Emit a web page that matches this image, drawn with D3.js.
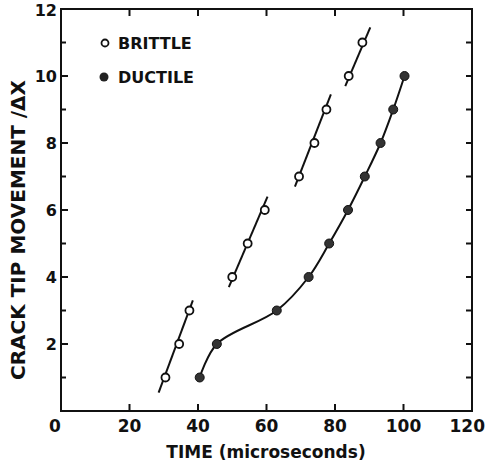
<!DOCTYPE html>
<html>
<head>
<meta charset="utf-8">
<title>Crack tip movement</title>
<script src="https://cdn.jsdelivr.net/npm/d3@7"></script>
<style>
  body { margin: 0; background: #fff; }
  text { font-family: "DejaVu Sans", sans-serif; font-weight: bold; fill: #111; }
</style>
</head>
<body>
<svg id="chart" width="486" height="464"></svg>
<script>
// data
var brittleTime = [30.5, 34.5, 37.5, 50, 54.5, 59.5, 69.5, 74, 77.5, 84, 88];
var brittleMove = [1, 2, 3, 4, 5, 6, 7, 8, 9, 10, 11];
// fitted straight segments through each brittle group: [t0, y0, t1, y1]
var brittleFits = [
  [28.5, 0.55, 38.5, 3.3],
  [49, 3.7, 60.3, 6.4],
  [68.3, 6.7, 78.8, 9.45],
  [83, 9.7, 90.3, 11.45]
];
var ductileTime = [40.5, 45.5, 63, 72.3, 78.3, 83.8, 88.7, 93.3, 97, 100.3];
var ductileMove = [1, 2, 3, 4, 5, 6, 7, 8, 9, 10];
var xTicks = [0, 20, 40, 60, 80, 100, 120];
var yTicks = [2, 4, 6, 8, 10, 12];

function draw() {
  var svg = d3.select("#chart");
  var pLeft = 61, pRight = 472, pTop = 9, pBottom = 411;

  var x = d3.scaleLinear().domain([0, 120]).range([pLeft, pRight]);
  var y = d3.scaleLinear().domain([0, 12]).range([pBottom, pTop]);

  // frame
  svg.append("rect")
    .attr("x", pLeft).attr("y", pTop)
    .attr("width", pRight - pLeft).attr("height", pBottom - pTop)
    .attr("fill", "none").attr("stroke", "#111").attr("stroke-width", 2);

  // x ticks, inward top and bottom
  var xInner = xTicks.slice(1, -1);
  svg.selectAll(".xtb").data(xInner).enter().append("line")
    .attr("x1", d => x(d)).attr("x2", d => x(d))
    .attr("y1", pBottom).attr("y2", pBottom - 7)
    .attr("stroke", "#111").attr("stroke-width", 2);
  svg.selectAll(".xtt").data(xInner).enter().append("line")
    .attr("x1", d => x(d)).attr("x2", d => x(d))
    .attr("y1", pTop).attr("y2", pTop + 7)
    .attr("stroke", "#111").attr("stroke-width", 2);

  // y ticks every unit, inward left and right
  var yAll = d3.range(1, 12);
  svg.selectAll(".ytl").data(yAll).enter().append("line")
    .attr("x1", pLeft).attr("x2", d => pLeft + (d % 2 == 0 ? 7 : 5))
    .attr("y1", d => y(d)).attr("y2", d => y(d))
    .attr("stroke", "#111").attr("stroke-width", 2);
  svg.selectAll(".ytr").data(yAll).enter().append("line")
    .attr("x1", pRight).attr("x2", pRight - 6)
    .attr("y1", d => y(d)).attr("y2", d => y(d))
    .attr("stroke", "#111").attr("stroke-width", 2);

  // tick labels
  svg.selectAll(".xl").data(xTicks).enter().append("text")
    .attr("x", d => d == 0 ? x(d) - 6 : (d == 120 ? 485 : x(d)))
    .attr("y", 432)
    .attr("text-anchor", d => d == 120 ? "end" : "middle")
    .attr("font-size", 17)
    .text(d => d);
  svg.selectAll(".yl").data(yTicks).enter().append("text")
    .attr("x", 57)
    .attr("y", d => d == 12 ? y(d) + 7 : y(d) + 6)
    .attr("text-anchor", "end")
    .attr("font-size", 16)
    .text(d => d);

  // axis titles
  svg.append("text")
    .attr("x", 266).attr("y", 458)
    .attr("text-anchor", "middle")
    .attr("font-size", 17)
    .text("TIME (microseconds)");
  svg.append("text")
    .attr("transform", "translate(25,230) rotate(-90)")
    .attr("text-anchor", "middle")
    .attr("font-size", 20)
    .text("CRACK TIP MOVEMENT /\u0394X");

  // brittle fitted segments
  svg.selectAll(".bf").data(brittleFits).enter().append("line")
    .attr("x1", d => x(d[0])).attr("y1", d => y(d[1]))
    .attr("x2", d => x(d[2])).attr("y2", d => y(d[3]))
    .attr("stroke", "#111").attr("stroke-width", 2);

  // ductile curve
  var ductile = ductileTime.map((t, i) => [t, ductileMove[i]]);
  var line = d3.line().x(d => x(d[0])).y(d => y(d[1])).curve(d3.curveCatmullRom.alpha(0.5));
  svg.append("path")
    .attr("d", line(ductile))
    .attr("fill", "none").attr("stroke", "#111").attr("stroke-width", 2);

  // markers
  var brittle = brittleTime.map((t, i) => [t, brittleMove[i]]);
  svg.selectAll(".bp").data(brittle).enter().append("circle")
    .attr("cx", d => x(d[0])).attr("cy", d => y(d[1])).attr("r", 4)
    .attr("fill", "#fff").attr("stroke", "#111").attr("stroke-width", 1.8);
  svg.selectAll(".dp").data(ductile).enter().append("circle")
    .attr("cx", d => x(d[0])).attr("cy", d => y(d[1])).attr("r", 4.5)
    .attr("fill", "#333").attr("stroke", "#111").attr("stroke-width", 1);

  // legend
  svg.append("circle").attr("cx", 105).attr("cy", 43).attr("r", 3.5)
    .attr("fill", "#fff").attr("stroke", "#111").attr("stroke-width", 1.8);
  svg.append("text").attr("x", 118).attr("y", 48.5).attr("font-size", 16).text("BRITTLE");
  svg.append("circle").attr("cx", 104).attr("cy", 77).attr("r", 4.5)
    .attr("fill", "#222");
  svg.append("text").attr("x", 118).attr("y", 82.5).attr("font-size", 16).text("DUCTILE");
}
draw();
</script>
</body>
</html>
